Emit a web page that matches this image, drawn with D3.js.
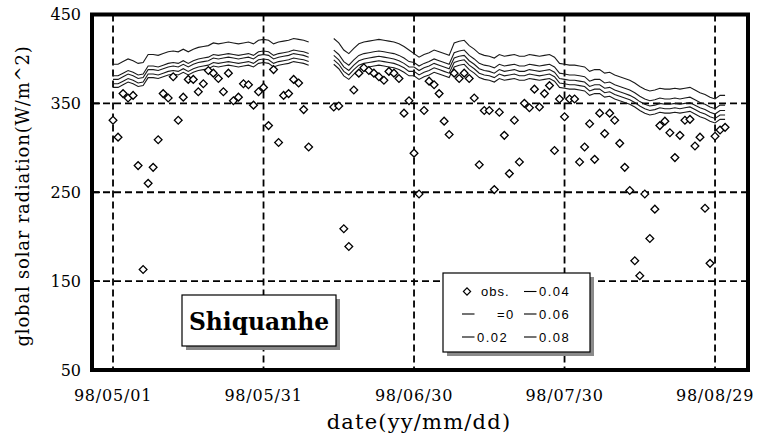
<!DOCTYPE html>
<html>
<head>
<meta charset="utf-8">
<script src="https://cdn.jsdelivr.net/npm/d3@7"></script>
<style>
    body { margin: 0; background: #fff; }
    svg { display: block; }
</style>
</head>
<body>
<div id="chart"></div>
<script>
// daily values starting 98/05/01, null = no data (98/06/10 - 98/06/13)
const startDay = "1998-05-01"
const obs = [
    331, 312, 361, 356, 359, 280, 163, 260, 278, 309,
    361, 356, 380, 331, 357, 377, 377, 363, 372, 387,
    384, 378, 363, 384, 353, 357, 372, 371, 348, 363,
    368, 325, 388, 306, 359, 361, 377, 373, 343, 301,
    null, null, null, null, 346, 347, 209, 189, 365, 384,
    390, 387, 384, 380, 376, 386, 384, 378, 339, 353,
    294, 248, 342, 375, 371, 361, 330, 315, 384, 378,
    384, 378, 356, 281, 342, 342, 253, 340, 314, 271,
    331, 284, 350, 345, 366, 346, 361, 370, 297, 355,
    335, 355, 355, 284, 301, 327, 287, 339, 316, 339,
    331, 305, 278, 252, 173, 156, 248, 198, 231, 325,
    330, 317, 289, 314, 331, 332, 302, 312, 232, 170,
    313, 320, 323
]
const calc0 = [
    394, 394, 397, 400, 398, 395, 396, 405, 405, 404,
    406, 408, 409, 408, 411, 408, 411, 413, 414, 415,
    418, 417, 418, 419, 418, 417, 418, 419, 417, 421,
    422, 421, 417, 419, 420, 421, 423, 422, 421, 419,
    null, null, null, null, 423, 418, 410, 406, 412, 417,
    419, 420, 421, 422, 421, 420, 419, 417, 414, 410,
    406, 402, 405, 407, 410, 408, 406, 404, 418, 420,
    421, 415, 411, 406, 404, 403, 401, 405, 403, 404,
    405, 403, 403, 405, 404, 403, 404, 405, 402, 395,
    394, 393, 393, 392, 391, 386, 388, 388, 384, 385,
    382, 380, 378, 376, 373, 369, 366, 364, 365, 367,
    366, 366, 367, 366, 367, 368, 365, 362, 360, 357,
    355, 359, 359
]
const calc002 = [
    381, 381, 384, 387, 385, 382, 383, 392, 392, 391,
    393, 395, 396, 395, 398, 395, 398, 400, 401, 402,
    405, 404, 405, 406, 405, 404, 405, 406, 404, 408,
    409, 408, 404, 406, 407, 408, 410, 409, 408, 406,
    null, null, null, null, 410, 405, 397, 393, 399, 404,
    406, 407, 408, 409, 408, 407, 406, 404, 401, 397,
    396, 392, 395, 397, 400, 398, 396, 394, 407, 409,
    410, 404, 400, 395, 393, 392, 390, 394, 392, 393,
    394, 392, 392, 394, 393, 392, 393, 394, 391, 384,
    383, 382, 382, 381, 380, 375, 377, 377, 373, 374,
    371, 369, 367, 365, 362, 358, 355, 353, 354, 356,
    355, 355, 356, 355, 356, 357, 354, 351, 349, 346,
    344, 348, 348
]
const calc004 = [
    377, 377, 380, 383, 381, 378, 379, 388, 388, 387,
    389, 391, 392, 391, 394, 391, 394, 396, 397, 398,
    401, 400, 401, 402, 401, 400, 401, 402, 400, 404,
    405, 404, 400, 402, 403, 404, 406, 405, 404, 402,
    null, null, null, null, 404, 399, 391, 387, 393, 398,
    400, 401, 402, 403, 402, 401, 400, 398, 395, 391,
    391, 387, 390, 392, 395, 393, 391, 389, 401, 403,
    404, 398, 394, 389, 387, 386, 384, 388, 386, 387,
    388, 386, 386, 388, 387, 386, 387, 388, 385, 378,
    377, 376, 376, 375, 374, 369, 371, 371, 367, 368,
    365, 363, 361, 359, 356, 352, 349, 347, 348, 350,
    349, 349, 350, 349, 350, 351, 348, 345, 343, 340,
    338, 342, 342
]
const calc006 = [
    372, 372, 375, 378, 376, 373, 374, 383, 383, 382,
    384, 386, 387, 386, 389, 386, 389, 391, 392, 393,
    396, 395, 396, 397, 396, 395, 396, 397, 395, 399,
    400, 399, 395, 397, 398, 399, 401, 400, 399, 397,
    null, null, null, null, 399, 394, 386, 382, 388, 393,
    395, 396, 397, 398, 397, 396, 395, 393, 390, 386,
    386, 382, 385, 387, 390, 388, 386, 384, 396, 398,
    399, 393, 389, 384, 382, 381, 379, 383, 381, 382,
    383, 381, 381, 383, 382, 381, 382, 383, 380, 373,
    372, 371, 371, 370, 369, 364, 366, 366, 362, 363,
    360, 358, 356, 354, 351, 347, 344, 342, 343, 345,
    344, 344, 345, 344, 345, 346, 343, 340, 338, 335,
    333, 337, 337
]
const calc008 = [
    368, 368, 371, 374, 372, 369, 370, 379, 379, 378,
    380, 382, 383, 382, 385, 382, 385, 387, 388, 389,
    392, 391, 392, 393, 392, 391, 392, 393, 391, 395,
    396, 395, 391, 393, 394, 395, 397, 396, 395, 393,
    null, null, null, null, 394, 389, 381, 377, 383, 388,
    390, 391, 392, 393, 392, 391, 390, 388, 385, 381,
    381, 377, 380, 382, 385, 383, 381, 379, 391, 393,
    394, 388, 384, 379, 377, 376, 374, 378, 376, 377,
    378, 376, 376, 378, 377, 376, 377, 378, 375, 368,
    367, 366, 366, 365, 364, 359, 361, 361, 357, 358,
    355, 353, 351, 349, 346, 342, 339, 337, 338, 340,
    339, 339, 340, 339, 340, 341, 338, 335, 333, 330,
    328, 332, 332
]
const calcSeries = [calc0, calc002, calc004, calc006, calc008]
const legendLabels = ["obs.", "=0", "0.02", "0.04", "0.06", "0.08"]
const yTicks = [50, 150, 250, 350, 450]
const yGrid = [150, 250, 350]
const xTickDays = ["1998-05-01", "1998-05-31", "1998-06-30", "1998-07-30", "1998-08-29"]
const stationName = "Shiquanhe"

let width = 765, height = 439
let plot = { left: 92, right: 748, top: 14.5, bottom: 370 }

let svg = d3.select("#chart")
    .append("svg")
    .attr("width", width)
    .attr("height", height)

let parseDay = d3.utcParse("%Y-%m-%d")
let day0 = parseDay(startDay)
let dayMs = 864e5
function dayDate(i) {
    return new Date(+day0 + i * dayMs)
}

let x = d3.scaleUtc()
    .domain([new Date(+day0 - 4.19 * dayMs), new Date(+day0 + 126.57 * dayMs)])
    .range([plot.left, plot.right])
let y = d3.scaleLinear()
    .domain([50, 450])
    .range([plot.bottom, plot.top])

//网格虚线
svg.selectAll(".vgrid")
    .data(xTickDays.map(parseDay))
    .enter()
    .append("line")
    .attr("class", "vgrid")
    .attr("x1", d => x(d)).attr("x2", d => x(d))
    .attr("y1", plot.top).attr("y2", plot.bottom)
    .attr("stroke", "#000")
    .attr("stroke-width", 1.8)
    .attr("stroke-dasharray", "7,4")
svg.selectAll(".hgrid")
    .data(yGrid)
    .enter()
    .append("line")
    .attr("class", "hgrid")
    .attr("x1", plot.left).attr("x2", plot.right)
    .attr("y1", d => y(d)).attr("y2", d => y(d))
    .attr("stroke", "#000")
    .attr("stroke-width", 1.8)
    .attr("stroke-dasharray", "7,4")

//计算值曲线
let line = d3.line()
    .defined(d => d != null)
    .x((d, i) => x(dayDate(i)))
    .y(d => y(d))
svg.selectAll(".calc")
    .data(calcSeries)
    .enter()
    .append("path")
    .attr("class", "calc")
    .attr("d", d => line(d))
    .attr("fill", "none")
    .attr("stroke", "#1a1a1a")
    .attr("stroke-width", 1.1)

//观测值
let diamond = d3.symbol().type(d3.symbolSquare).size(30)
svg.selectAll(".obs")
    .data(obs.map((v, i) => [i, v]).filter(d => d[1] != null))
    .enter()
    .append("path")
    .attr("class", "obs")
    .attr("d", diamond)
    .attr("transform", d => "translate(" + x(dayDate(d[0])) + "," + y(d[1]) + ") rotate(45)")
    .attr("fill", "#fff")
    .attr("stroke", "#000")
    .attr("stroke-width", 1.3)

//站名框
let nameBox = svg.append("g")
nameBox.append("rect")
    .attr("x", 186).attr("y", 299).attr("width", 154).attr("height", 51)
    .attr("fill", "#888")
nameBox.append("rect")
    .attr("x", 182).attr("y", 295).attr("width", 154).attr("height", 51)
    .attr("fill", "#fff").attr("stroke", "#000").attr("stroke-width", 1.2)
nameBox.append("text")
    .attr("x", 259).attr("y", 330)
    .attr("text-anchor", "middle")
    .attr("font-family", "DejaVu Serif")
    .attr("font-weight", "bold")
    .attr("font-size", 24)
    .attr("textLength", 140)
    .attr("lengthAdjust", "spacingAndGlyphs")
    .text(stationName)

//图例
let legend = svg.append("g")
legend.append("rect")
    .attr("x", 447).attr("y", 277).attr("width", 147).attr("height", 79)
    .attr("fill", "#8a8a8a")
legend.append("rect")
    .attr("x", 443).attr("y", 273).attr("width", 147).attr("height", 79)
    .attr("fill", "#fff").attr("stroke", "#000").attr("stroke-width", 1.2)

let rowY = [296, 318.5, 341.5]
let legendFont = "'Liberation Sans', Arial, sans-serif"
// obs.
legend.append("path")
    .attr("d", d3.symbol().type(d3.symbolSquare).size(26))
    .attr("transform", "translate(467,291.5) rotate(45)")
    .attr("fill", "#fff").attr("stroke", "#000").attr("stroke-width", 1.2)
legend.append("text")
    .attr("x", 481).attr("y", rowY[0])
    .style("font-family", legendFont).style("font-size", "13px")
    .style("letter-spacing", "1px")
    .text(legendLabels[0])
// calc series: column 1 rows 2-3, column 2 rows 1-3
let legendItems = legendLabels.slice(1).map((name, i) => {
    let col = i < 2 ? 0 : 1
    let row = i < 2 ? i + 1 : i - 2
    return { name: name, col: col, row: row }
})
legendItems.forEach(d => {
    let lx = d.col === 0 ? 462 : 524
    let ly = rowY[d.row] - 4.5
    legend.append("line")
        .attr("x1", lx).attr("x2", lx + 12.5)
        .attr("y1", ly).attr("y2", ly)
        .attr("stroke", "#000").attr("stroke-width", 1.1)
    let t = legend.append("text")
        .attr("y", rowY[d.row])
        .style("font-family", legendFont).style("font-size", "13px")
        .style("letter-spacing", "1.5px")
        .text(d.name)
    if (d.name === "=0") {
        t.attr("x", 497)
    } else {
        t.attr("x", lx + 15)
    }
})

//外框
svg.append("rect")
    .attr("x", plot.left).attr("y", plot.top)
    .attr("width", plot.right - plot.left).attr("height", plot.bottom - plot.top)
    .attr("fill", "none")
    .attr("stroke", "#000")
    .attr("stroke-width", 4)

//坐标轴刻度
let serif = "'DejaVu Serif', serif"
svg.selectAll(".ytick")
    .data(yTicks)
    .enter()
    .append("text")
    .attr("class", "ytick")
    .attr("x", 81)
    .attr("y", d => y(d))
    .attr("dy", "0.36em")
    .attr("text-anchor", "end")
    .style("font-family", serif)
    .style("font-size", "16px")
    .text(d => d)
svg.selectAll(".yticklines")
    .data(yTicks.slice(1, 4))
    .enter()
    .append("line")
    .attr("x1", plot.left).attr("x2", plot.left + 8)
    .attr("y1", d => y(d)).attr("y2", d => y(d))
    .attr("stroke", "#000").attr("stroke-width", 1.8)

let fmt = d3.utcFormat("%y/%m/%d")
svg.selectAll(".xtick")
    .data(xTickDays.map(parseDay))
    .enter()
    .append("text")
    .attr("class", "xtick")
    .attr("x", d => x(d))
    .attr("y", 401)
    .attr("text-anchor", "middle")
    .style("font-family", serif)
    .style("font-size", "16px")
    .style("letter-spacing", "0.8px")
    .text(d => fmt(d))

svg.append("text")
    .attr("x", 419).attr("y", 429)
    .attr("text-anchor", "middle")
    .style("font-family", serif)
    .style("font-size", "21px")
    .style("letter-spacing", "1.2px")
    .text("date(yy/mm/dd)")

svg.append("text")
    .attr("transform", "translate(29,196) rotate(-90)")
    .attr("text-anchor", "middle")
    .style("font-family", serif)
    .style("font-size", "18px")
    .style("letter-spacing", "0.8px")
    .text("global solar radiation(W/m^2)")
</script>
</body>
</html>
